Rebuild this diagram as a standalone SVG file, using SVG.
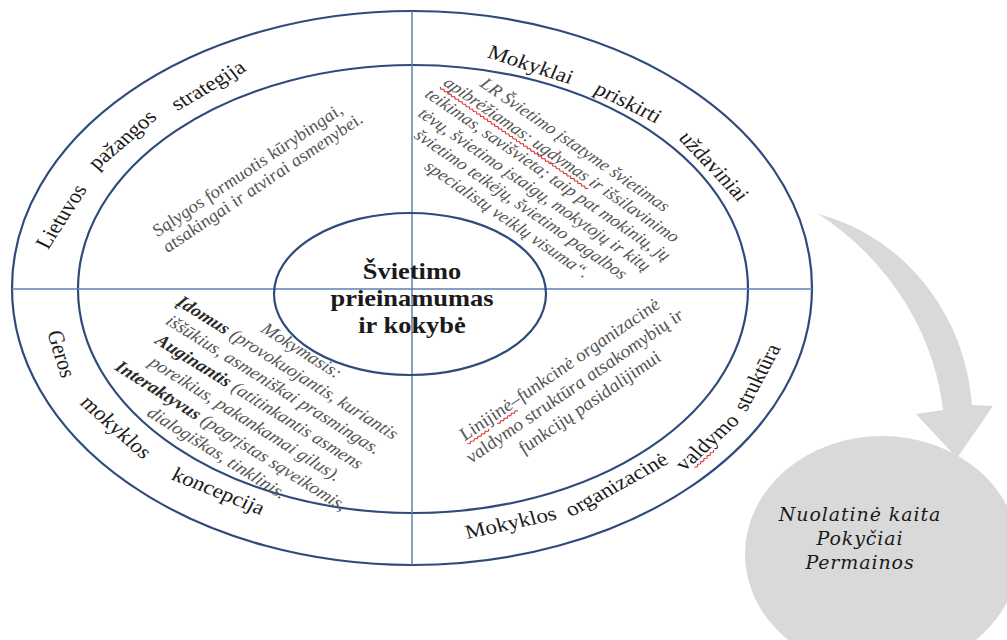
<svg xmlns="http://www.w3.org/2000/svg" width="1007" height="640" viewBox="0 0 1007 640">
<style>
.ring{fill:none;stroke:#2f4b7c;stroke-width:2.2}
.div{stroke:#5d7fb3;stroke-width:1.5;fill:none}
.rt{font-family:"Liberation Serif","Times New Roman",serif;font-size:20px;fill:#1a1a1a;text-anchor:middle}
.it{font-family:"Liberation Serif","Times New Roman",serif;font-style:italic;fill:#555}
.b{font-weight:bold;fill:#2a2a2a}
.title{font-family:"Liberation Serif","Times New Roman",serif;font-weight:bold;font-size:23px;fill:#1a1a1a;text-anchor:middle}
.gt{font-family:"DejaVu Serif","Liberation Serif",serif;font-style:italic;font-size:19px;letter-spacing:0.9px;fill:#1a1a1a;text-anchor:middle}
.sq{fill:none;stroke:#e03030;stroke-width:1}
.gray{fill:#d9d9d9}
</style>
<rect width="1007" height="640" fill="#fff"/>

<g id="outer-ring">
<ellipse class="ring" cx="412" cy="288" rx="400" ry="277" fill="#fff"/>
</g>
<g id="middle-ring">
<ellipse class="ring" cx="413" cy="289" rx="335" ry="224"/>
</g>

<g id="connectors">
<line class="div" x1="412" y1="11" x2="412" y2="565"/>
<line class="div" x1="12" y1="289" x2="812" y2="289"/>
<path class="gray" d="M818,214 C900,235 965,310 972,405 L993,406 L957,458 L916,414 L943,410 C933,320 875,250 818,214 Z"/>
</g>

<g id="ring-lietuvos-strategija">
<text class="rt" transform="translate(67.7,219.7) scale(1.15,1) rotate(-60.5)">Lietuvos</text>
<text class="rt" transform="translate(127.4,144.3) scale(1.15,1) rotate(-44.7)">pažangos</text>
<text class="rt" transform="translate(212.2,90.8) scale(1.15,1) rotate(-34.1)">strategija</text>
</g>
<g id="ring-mokyklai-uzdaviniai">
<text class="rt" transform="translate(528,70.6) scale(1.15,1) rotate(20.5)">Mokyklai</text>
<text class="rt" transform="translate(624.6,108.2) scale(1.15,1) rotate(29.3)">priskirti</text>
<text class="rt" transform="translate(708.2,170.3) scale(1.15,1) rotate(50.5)">uždaviniai</text>
</g>
<g id="ring-geros-mokyklos">
<text class="rt" transform="translate(54.1,355.6) scale(1.15,1) rotate(74.8)">Geros</text>
<text class="rt" transform="translate(110.9,431.7) scale(1.15,1) rotate(45.5)">mokyklos</text>
<text class="rt" transform="translate(215.4,497.1) scale(1.15,1) rotate(24.7)">koncepcija</text>
</g>
<g id="ring-valdymo-struktura">
<text class="rt" transform="translate(512.5,529.1) scale(1.15,1) rotate(-14.2)">Mokyklos</text>
<text class="rt" transform="translate(620.4,490.1) scale(1.15,1) rotate(-32.4)">organizacinė</text>
<g transform="translate(712.5,446.7) scale(1.15,1) rotate(-45.9)">
<text class="rt">valdymo</text>
<path class="sq" d="M-25.6,3 l2,1.5 2,-1.5 2,1.5 2,-1.5 2,1.5 2,-1.5 2,1.5 2,-1.5 2,1.5 2,-1.5 2,1.5 2,-1.5"/>
</g>
<text class="rt" transform="translate(763.7,380.1) scale(1.15,1) rotate(-64.7)">struktūra</text>
</g>

<g id="quadrant-salygos">
<text class="it" font-size="17" fill="#606060" transform="translate(158,237) scale(1.15,1) rotate(-37.6)"><tspan x="0" y="0">Sąlygos formuotis kūrybingai,</tspan><tspan x="-3" y="18">atsakingai ir atvirai asmenybei.</tspan></text>
</g>

<g id="quadrant-lr-istatymas">
<g transform="translate(571.4,148.9) scale(1.15,1) rotate(38.3)">
<text class="it" font-size="16.5" text-anchor="middle" fill="#4a4a4a"><tspan x="0" y="0">LR Švietimo įstatyme švietimas</tspan><tspan x="0" y="19">apibrėžiamas: ugdymas ir išsilavinimo</tspan><tspan x="0" y="38">teikimas, savišvieta; taip pat mokinių, jų</tspan><tspan x="0" y="57">tėvų, švietimo įstaigų, mokytojų ir kitų</tspan><tspan x="0" y="76">švietimo teikėjų, švietimo pagalbos</tspan><tspan x="0" y="95">specialistų veiklų visuma“.</tspan></text>
<path class="sq" d="M-128,22 l2,1.5 2,-1.5 2,1.5 2,-1.5 2,1.5 2,-1.5 2,1.5 2,-1.5 2,1.5 2,-1.5 2,1.5 2,-1.5 2,1.5 2,-1.5 2,1.5 2,-1.5 2,1.5 2,-1.5 2,1.5 2,-1.5 2,1.5 2,-1.5 2,1.5 2,-1.5 2,1.5 2,-1.5 2,1.5 2,-1.5 2,1.5 2,-1.5 2,1.5 2,-1.5 2,1.5 2,-1.5 2,1.5 2,-1.5 2,1.5 2,-1.5 2,1.5 2,-1.5 2,1.5 2,-1.5 2,1.5 2,-1.5 2,1.5 2,-1.5 2,1.5 2,-1.5 2,1.5 2,-1.5 2,1.5 2,-1.5 2,1.5 2,-1.5 2,1.5 2,-1.5 2,1.5 2,-1.5 2,1.5 2,-1.5 2,1.5 2,-1.5 2,1.5 2,-1.5 2,1.5 2,-1.5 2,1.5 2,-1.5 2,1.5 2,-1.5 2,1.5 2,-1.5 2,1.5 2,-1.5 2,1.5 2,-1.5 2,1.5 2,-1.5 2,1.5 2,-1.5 2,1.5 2,-1.5"/>
</g>
</g>

<g id="quadrant-mokymasis">
<text class="it" font-size="17" text-anchor="middle" transform="translate(298,355) scale(1.15,1) rotate(35.7)"><tspan x="0" y="0">Mokymasis:</tspan><tspan x="0" y="21"><tspan class="b">Įdomus</tspan> (provokuojantis, kuriantis</tspan><tspan x="0" y="42">iššūkius, asmeniškai prasmingas.</tspan><tspan x="0" y="63"><tspan class="b">Auginantis</tspan> (atitinkantis asmens</tspan><tspan x="0" y="84">poreikius, pakankamai gilus).</tspan><tspan x="0" y="105"><tspan class="b">Interaktyvus</tspan> (pagrįstas sąveikomis,</tspan><tspan x="0" y="126">dialogiškas, tinklinis.</tspan></text>
</g>

<g id="quadrant-linijine">
<g transform="translate(563.6,373.9) scale(1.15,1) rotate(-38.2)">
<text class="it" font-size="17.5" text-anchor="middle"><tspan x="0" y="0">Linijinė–funkcinė organizacinė</tspan><tspan x="0" y="21">valdymo struktūra atsakomybių ir</tspan><tspan x="0" y="42">funkcijų pasidalijimui</tspan></text>
<path class="sq" d="M-109,3 l2,1.5 2,-1.5 2,1.5 2,-1.5 2,1.5 2,-1.5 2,1.5 2,-1.5 2,1.5 2,-1.5 2,1.5 2,-1.5 M-76,3 l2,1.5 2,-1.5 2,1.5 2,-1.5 2,1.5 2,-1.5 2,1.5 2,-1.5 2,1.5 2,-1.5 2,1.5"/>
</g>
</g>

<g id="center-node">
<ellipse class="ring" cx="410" cy="294" rx="136" ry="81" fill="#fff"/>
<text class="title" transform="translate(412,279) scale(1.15,1)"><tspan x="0" y="0">Švietimo</tspan><tspan x="0" y="27">prieinamumas</tspan><tspan x="0" y="54">ir kokybė</tspan></text>
</g>

<g id="change-node">
<ellipse class="gray" cx="882" cy="554" rx="137" ry="118"/>
<text class="gt" x="860" y="521">Nuolatinė kaita</text>
<text class="gt" x="860" y="545">Pokyčiai</text>
<text class="gt" x="860" y="569">Permainos</text>
</g>
</svg>
